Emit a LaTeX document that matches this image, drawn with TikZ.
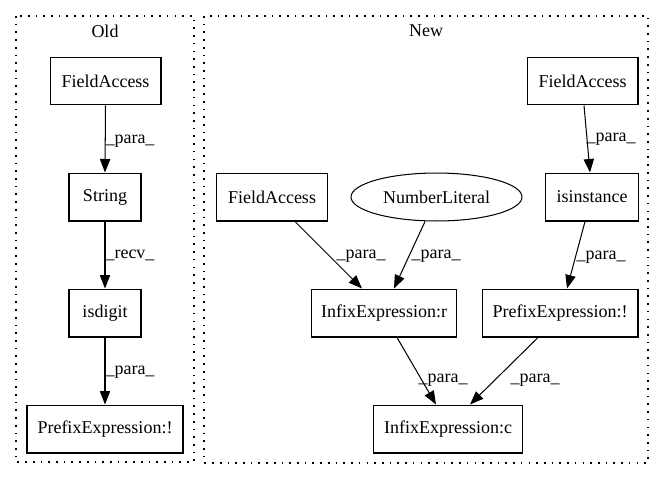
\documentclass[tikz,border=0pt]{standalone}
\usepackage{fontspec}
\setmainfont{Liberation Serif}
\usetikzlibrary{arrows.meta,shapes.geometric,calc}
\begin{document}
\begin{tikzpicture}[x=0.7777pt,y=-0.7777pt,
  every node/.style={font=\fontsize{14pt}{16pt}\selectfont, inner sep=0pt},
  box/.style={draw, line width=0.8pt, rectangle, minimum height=37.3pt},
  ell/.style={draw, line width=0.8pt, ellipse, minimum width=133pt, minimum height=37.3pt},
  cluster/.style={line width=0.9pt, dash pattern=on 1.3pt off 4.7pt},
  edge/.style={line width=0.8pt, -{Triangle[length=10.5pt,width=8pt]}},
  lbl/.style={anchor=center}]
\useasboundingbox (0,0) rectangle (665,480);
\draw[cluster] (16,16) rectangle (194,462);
\draw[cluster] (204,16) rectangle (648,463);
\node (oldlbl) at (105,31) {Old};
\node (newlbl) at (426,31) {New};
% Old
\node[box, minimum width=86.3pt] (o1) at (105.5,81) {FieldAccess};
\node[box, minimum width=56pt] (o2) at (105,197) {String};
\node[box, minimum width=56pt] (o3) at (105,313) {isdigit};
\node[box, minimum width=121.3pt] (o4) at (105,429) {PrefixExpression:!};
% New
\node[box, minimum width=86.3pt] (n1) at (582.5,81) {FieldAccess};
\node[box, minimum width=72.5pt] (n2) at (592,197) {isinstance};
\node[box, minimum width=87pt] (n3) at (272,197) {FieldAccess};
\node[ell] (n4) at (436.5,197) {NumberLiteral};
\node[box, minimum width=113.5pt] (n5) at (384,313) {InfixExpression:r};
\node[box, minimum width=121.3pt] (n6) at (560,313) {PrefixExpression:!};
\node[box, minimum width=116.6pt] (n7) at (448,429) {InfixExpression:c};
% edges
\draw[edge] (o1.south) -- (o2.north);
\draw[edge] (o2.south) -- (o3.north);
\draw[edge] (o3.south) -- (o4.north);
\draw[edge] ($(n3.south)+(23,0)$) -- ($(n5.north)+(-22,0)$);
\draw[edge] ($(n4.south)+(-11.5,0)$) -- ($(n5.north)+(10,0)$);
\draw[edge] ($(n1.south)+(1.5,0)$) -- ($(n2.north)+(-2,0)$);
\draw[edge] ($(n2.south)+(-7,0)$) -- ($(n6.north)+(7,0)$);
\draw[edge] ($(n5.south)+(13,0)$) -- ($(n7.north)+(-12,0)$);
\draw[edge] ($(n6.south)+(-22,0)$) -- ($(n7.north)+(22,0)$);
% labels
\node[lbl] (l1) at (130,141) {\_para\_};
\node[lbl] (l2) at (130,255) {\_recv\_};
\node[lbl] (l3) at (130,372) {\_para\_};
\node[lbl] (l4) at (361,256) {\_para\_};
\node[lbl] (l5) at (436,256) {\_para\_};
\node[lbl] (l6) at (611,139) {\_para\_};
\node[lbl] (l7) at (601,257) {\_para\_};
\node[lbl] (l8) at (443,380) {\_para\_};
\node[lbl] (l9) at (535,380) {\_para\_};
\end{tikzpicture}
\end{document}
